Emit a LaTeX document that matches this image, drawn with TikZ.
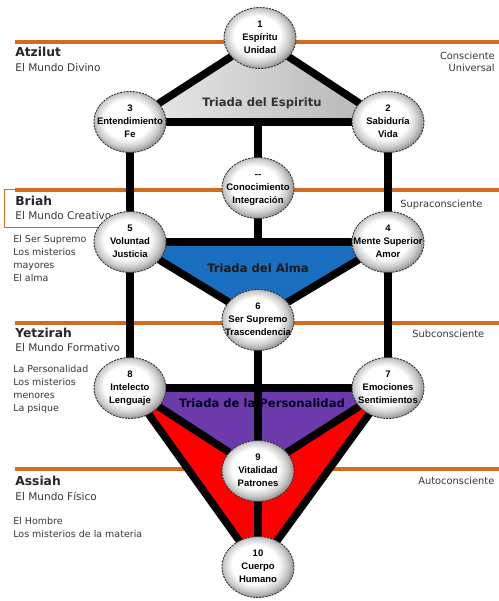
\documentclass[tikz,border=0pt]{standalone}
\usepackage{fontspec}
\setmainfont{DejaVu Sans}
\newfontfamily\sefirafont{Liberation Sans}
\usetikzlibrary{shapes.geometric,backgrounds}
\definecolor{worldline}{RGB}{212,106,30}
\definecolor{almablue}{RGB}{26,110,192}
\definecolor{perspurple}{RGB}{108,58,170}
\definecolor{labelgray}{RGB}{55,55,55}
\pgfdeclareradialshading{sefirashade}{\pgfpoint{-3bp}{3bp}}{color(0bp)=(white); color(16bp)=(white); color(22bp)=(gray!40); color(26bp)=(gray!80); color(50bp)=(gray!80)}
\newcommand\sef[1]{\makebox[0pt]{\begin{tabular}{@{}c@{}}#1\end{tabular}}}
\tikzset{
  sefira/.style={ellipse, shade, shading=sefirashade, draw=black!80, line width=0.5pt,
    dash pattern=on 1.2pt off 0.6pt, minimum width=1.44cm, minimum height=1.22cm,
    inner sep=0pt, font=\sefirafont\bfseries\fontsize{5.4}{7.4}\selectfont},
  link/.style={line width=4.3pt, line cap=round},
  worldbar/.style={draw=worldline, line width=2.2pt},
  world/.style={anchor=west, inner sep=0pt, text=black!85, font=\bfseries\fontsize{7}{8}\selectfont},
  worldsub/.style={anchor=west, inner sep=0pt, text=labelgray, font=\fontsize{6}{7}\selectfont},
  worldnote/.style={anchor=north west, inner sep=0pt, align=left, text=labelgray, font=\fontsize{5.4}{7.4}\selectfont},
  state/.style={inner sep=0pt, text=labelgray, font=\fontsize{5.6}{7.2}\selectfont},
  triad/.style={inner sep=0pt, font=\bfseries\fontsize{6.6}{8}\selectfont}
}
\begin{document}
\begin{tikzpicture}[x=0.02cm, y=-0.02cm, line join=round]
\useasboundingbox (0,0) rectangle (499,601);
% mundos
\node[world] (atzilut) at (15,52) {Atzilut};
\node[worldsub] (divino) at (15,68) {El Mundo Divino};
\node[world] (briah) at (15,201) {Briah};
\node[worldsub] (creativo) at (15,216) {El Mundo Creativo};
\node[worldnote] (alma) at (13,235) {El Ser Supremo\\Los misterios\\mayores\\El alma};
\node[world] (yetzirah) at (15,333) {Yetzirah};
\node[worldsub] (formativo) at (15,348) {El Mundo Formativo};
\node[worldnote] (psique) at (13,365) {La Personalidad\\Los misterios\\menores\\La psique};
\node[world] (assiah) at (15,481) {Assiah};
\node[worldsub] (fisico) at (15,496) {El Mundo Físico};
\node[worldnote] (materia) at (13,517) {El Hombre\\Los misterios de la materia};
% estados
\node[state, anchor=east, align=right] (consciente) at (495,62) {Consciente\\Universal};
\node[state, anchor=west] (supra) at (400,205) {Supraconsciente};
\node[state, anchor=west] (sub) at (412,334) {Subconsciente};
\node[state, anchor=west] (auto) at (418,481) {Autoconsciente};
% sefirot
\node[sefira] (s1) at (260,38) {\sef{1\\Espíritu\\Unidad}};
\node[sefira] (s3) at (130,122) {\sef{3\\Entendimiento\\Fe}};
\node[sefira] (s2) at (388,122) {\sef{2\\Sabiduría\\Vida}};
\node[sefira] (sd) at (258,188) {\sef{--\\Conocimiento\\Integración}};
\node[sefira] (s5) at (130,242) {\sef{5\\Voluntad\\Justicia}};
\node[sefira] (s4) at (388,242) {\sef{4\\Mente Superior\\Amor}};
\node[sefira] (s6) at (258,320) {\sef{6\\Ser Supremo\\Trascendencia}};
\node[sefira] (s8) at (130,388) {\sef{8\\Intelecto\\Lenguaje}};
\node[sefira] (s7) at (388,388) {\sef{7\\Emociones\\Sentimientos}};
\node[sefira] (s9) at (258,471) {\sef{9\\Vitalidad\\Patrones}};
\node[sefira] (s10) at (258,567) {\sef{10\\Cuerpo\\Humano}};
% triadas
\node[triad, text=black!80] (espiritu) at (262,103) {Triada del Espiritu};
\node[triad, text=black!90] (almat) at (258,268) {Triada del Alma};
\node[triad, text=black!85!blue] (personalidad) at (262,403) {Triada de la Personalidad};
\begin{scope}[on background layer]
  \draw[worldbar] (15,42) -- (499,42);
  \draw[worldbar] (15,190) -- (499,190);
  \draw[draw=worldline, line width=0.5pt] (15,189) -- (4,189) -- (4,227) -- (115,227);
  \draw[worldbar] (15,323) -- (499,323);
  \draw[worldbar] (15,469) -- (499,469);
  \shade[left color=gray!15, right color=gray!60] (s1.center) -- (s3.center) -- (s2.center) -- cycle;
  \fill[almablue] (s5.center) -- (s4.center) -- (s6.center) -- cycle;
  \fill[red] (s8.center) -- (s7.center) -- (s10.center) -- cycle;
  \fill[perspurple] (s8.center) -- (s7.center) -- (s9.center) -- cycle;
  \draw[link] (s3) -- (s1) -- (s2) -- (s3);
  \draw[link] (s3) -- (s5) -- (s8);
  \draw[link] (s2) -- (s4) -- (s7);
  \draw[link] (sd) -- (sd |- s3) (sd) -- (sd |- s5);
  \draw[link] (s5) -- (s4) -- (s6) -- (s5);
  \draw[link] (s6) -- (s9) -- (s10);
  \draw[link] (s8) -- (s7) -- (s9) -- (s8);
  \draw[link] (s8) -- (s10) -- (s7);
\end{scope}
\end{tikzpicture}
\end{document}
